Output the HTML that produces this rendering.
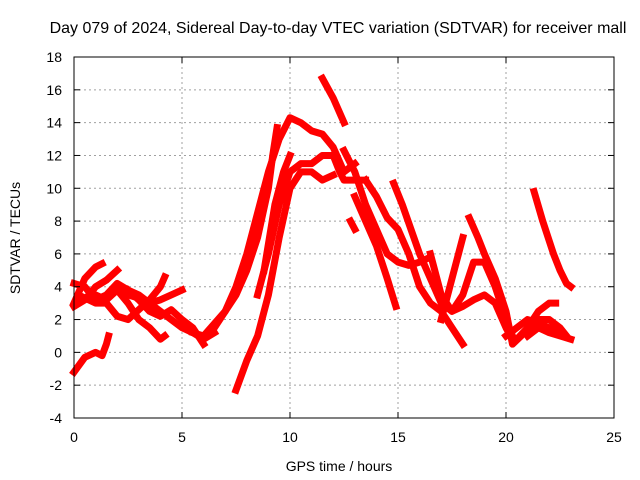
<!DOCTYPE html>
<html><head><meta charset="utf-8"><style>
body{margin:0;background:#fff}
svg{display:block;font-family:"Liberation Sans",sans-serif}
</style></head><body>
<svg id="chart" width="640" height="480">
<text x="338" y="33" font-size="16" text-anchor="middle">Day 079 of 2024, Sidereal Day-to-day VTEC variation (SDTVAR) for receiver mall</text>
<text x="339" y="471" font-size="14" text-anchor="middle">GPS time / hours</text>
<text transform="translate(20,238) rotate(-90)" font-size="14" text-anchor="middle">SDTVAR / TECUs</text>
<g id="grid"></g><g id="marks"></g><g id="axes"></g>
</svg>
<script>
const xTicks=[0,5,10,15,20,25];
const yTicks=[-4,-2,0,2,4,6,8,10,12,14,16,18];
const track1=[[0,4.2],[0.5,4],[1,3.2],[1.5,3.5],[2,4.2],[2.5,3.8],[3,3.5],[3.5,3],[4,2.5],[4.5,2],[5,1.5],[5.5,1.2],[6,0.8],[6.5,1.2]];
const track2=[[0,3],[0.5,4.5],[1,5.2],[1.3,5.4]];
const track3=[[0,2.8],[0.5,3.2],[1,4],[1.5,4.4],[2,5]];
const track4=[[0.2,3.5],[1,3],[1.5,3],[2,2.2],[2.5,2],[3,2.6],[3.5,3.2],[4,4],[4.2,4.6]];
const track5=[[1,3.5],[1.5,3.2],[2,3.8],[2.5,3],[3,2],[3.5,1.5],[4,0.8],[4.2,1]];
const track6=[[2,4],[2.5,3.5],[3,3.3],[3.5,3],[4,3.2],[4.5,3.5],[5,3.8]];
const track7=[[2.5,3.8],[3,3.2],[3.5,2.5],[4,2.2],[4.5,2.6],[5,2],[5.5,1.5],[6,0.5]];
const track8=[[0,-1.2],[0.5,-0.3],[1,0],[1.3,-0.2],[1.5,0.5],[1.6,1]];
const track9=[[5.5,1.2],[6,1],[6.5,1.5],[7,2.5],[7.5,3.5],[8,5],[8.5,7],[9,10],[9.2,12],[9.4,13.7]];
const track10=[[6,1],[7,2.5],[7.5,4],[8,6],[8.5,8.5],[9,11],[9.5,13],[10,14.3],[10.5,14],[11,13.5],[11.5,13.3],[12,12.5],[12.5,11],[13,11.5]];
const track11=[[8.5,3.5],[9,6],[9.5,9],[10,11],[10.5,11.5],[11,11.5],[11.5,12],[12,12],[12.3,11],[12.5,10.5],[13,10.5],[13.5,10.5]];
const track12=[[7.5,-2.3],[8,-0.5],[8.5,1],[9,3.5],[9.5,7],[10,10],[10.5,11],[11,11],[11.5,10.5],[12,10.8]];
const track13=[[8.8,5],[9.3,9],[9.7,11],[10,12]];
const track14=[[11.5,16.7],[12,15.5],[12.5,14]];
const track15=[[12.5,12.3],[13,11],[13.5,9],[14,7.5],[14.5,6],[15,5.5],[15.5,5.3],[16,5.5],[16.5,5.8]];
const track16=[[13.5,10.5],[14,9.5],[14.5,8.2],[15,7.5],[15.5,6],[16,4],[16.5,3],[17,2.5],[17.5,1.5],[18,0.5]];
const track17=[[12.8,8],[13,7.5]];
const track18=[[13,9.5],[13.5,8],[14,6.5],[14.5,4.5],[14.9,2.8]];
const track19=[[14.8,10.3],[15.2,9],[15.6,7.5],[16,6],[16.5,4.5],[17,3],[17.5,2.5],[18,2.8],[18.5,3.2],[19,3.5],[19.5,3],[20,1.5],[20.3,0.8]];
const track20=[[16.5,6],[17,3.5],[17.5,2.5],[18,3.5],[18.5,5.5],[19,5.5],[19.5,4],[20,2],[20.3,1]];
const track21=[[17,2],[17.5,4.5],[18,7]];
const track22=[[18.3,8.2],[18.7,7],[19,6],[19.5,4.5],[20,2.5],[20.3,0.5],[20.7,1],[21,1.5],[21.5,2.5],[22,3],[22.3,3]];
const track23=[[20.5,0.8],[21,1.5],[21.5,2],[22,2],[22.5,1.5],[22.8,1]];
const track24=[[21,1],[21.5,1.5],[22,1.2],[22.5,1],[23,0.8]];
const track25=[[21.3,9.8],[21.7,8],[22.2,6],[22.5,5],[22.8,4.2],[23,4]];
const track26=[[20,1],[20.5,1.5],[21,2],[21.5,1.8],[22,1.5],[22.5,1.2]];
const tracks=[track1,track2,track3,track4,track5,track6,track7,track8,track9,track10,track11,track12,track13,track14,track15,track16,track17,track18,track19,track20,track21,track22,track23,track24,track25,track26];

const X0=74,X1=614,Y0=418,Y1=57;
function sx(v){return X0+(v-0)/(25-0)*(X1-X0);}
function sy(v){return Y0-(v+4)/(18+4)*(Y0-Y1);}
const NS="http://www.w3.org/2000/svg";
function mk(tag,attrs,parent){const e=document.createElementNS(NS,tag);for(const k in attrs)e.setAttribute(k,attrs[k]);parent.appendChild(e);return e;}
const grid=document.getElementById('grid'),axes=document.getElementById('axes'),marks=document.getElementById('marks');
xTicks.forEach(t=>{
  const x=sx(t);
  if(t>0&&t<25){const g=mk('line',{x1:x,x2:x,y1:Y1,y2:Y0,stroke:'#a0a0a0','stroke-dasharray':'2,3'},grid);
  
  }
  mk('line',{x1:x,x2:x,y1:Y0,y2:Y0-6,stroke:'#000'},axes);
  mk('line',{x1:x,x2:x,y1:Y1,y2:Y1+6,stroke:'#000'},axes);
  const l=mk('text',{x:x,y:Y0+24,'font-size':14,'text-anchor':'middle'},axes);l.textContent=t;
  
  
});
yTicks.forEach(t=>{
  const y=sy(t);
  if(t>-4&&t<18){const g=mk('line',{x1:X0,x2:X1,y1:y,y2:y,stroke:'#a0a0a0','stroke-dasharray':'2,3'},grid);
  
  }
  mk('line',{x1:X0,x2:X0+6,y1:y,y2:y,stroke:'#000'},axes);
  mk('line',{x1:X1,x2:X1-6,y1:y,y2:y,stroke:'#000'},axes);
  const l=mk('text',{x:X0-12,y:y+5,'font-size':14,'text-anchor':'end'},axes);l.textContent=t;
  
  
});
const frame=mk('rect',{x:X0,y:Y1,width:X1-X0,height:Y0-Y1,fill:'none',stroke:'#000'},axes);


tracks.forEach((tr,i)=>{
  const p=mk('polyline',{points:tr.map(d=>sx(d[0])+','+sy(d[1])).join(' '),fill:'none',stroke:'#ff0000','stroke-width':7,'stroke-linejoin':'round','stroke-linecap':'square'},marks);
  
  
});
</script>
</body></html>
